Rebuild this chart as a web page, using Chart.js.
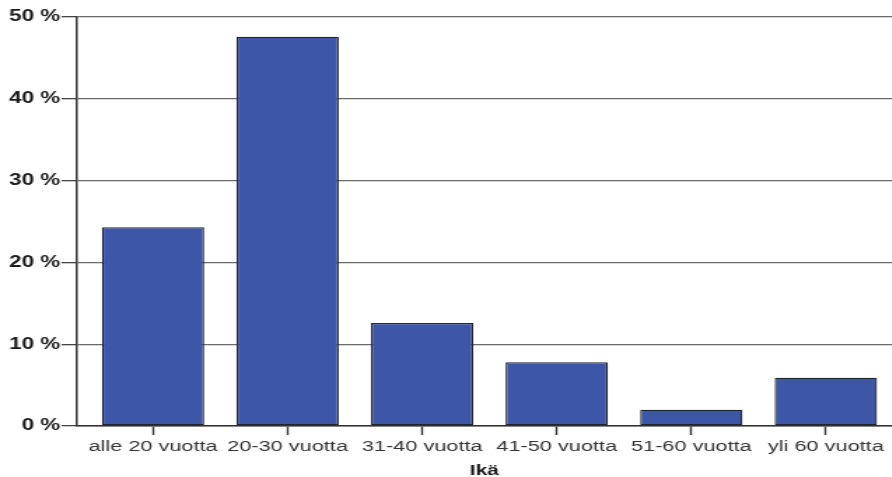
<!DOCTYPE html>
<html>
<head>
<meta charset="utf-8">
<script src="https://cdn.jsdelivr.net/npm/chart.js@4/dist/chart.umd.min.js"></script>
<style>
  html, body { margin: 0; padding: 0; background: #fff; overflow: hidden; }
  #wrap { width: 892px; height: 477px; overflow: hidden; }
  /* the chart is drawn narrow and widened horizontally */
  #chart { display: block; transform: scaleX(1.4); transform-origin: 0 0; }
</style>
</head>
<body>
<div id="wrap"><canvas id="chart" width="637" height="477"></canvas></div>
<script>
// Age groups and their share of respondents (%)
const categories = ['alle 20 vuotta', '20-30 vuotta', '31-40 vuotta', '41-50 vuotta', '51-60 vuotta', 'yli 60 vuotta'];
const shares = [24.3, 47.6, 12.6, 7.8, 2.0, 5.9];
const yTicks = [0, 10, 20, 30, 40, 50];
const xTitle = 'Ikä';

const FONT = "'Liberation Sans', Arial, Helvetica, sans-serif";

const points = categories.map((c, i) => ({ x: i, y: shares[i] }));

new Chart(document.getElementById('chart'), {
  type: 'bar',
  data: {
    datasets: [{
      data: points,
      backgroundColor: '#3d56a8',
      borderColor: '#1f2430',
      borderWidth: 1.3,
      borderSkipped: false,
      categoryPercentage: 1,
      barPercentage: 0.76
    }]
  },
  options: {
    responsive: false,
    animation: false,
    events: [],
    layout: { padding: { top: 17, right: 0, bottom: 0, left: 0 } },
    plugins: { legend: { display: false }, tooltip: { enabled: false } },
    scales: {
      x: {
        type: 'linear',
        offset: false,
        min: -0.565,
        max: 5.49,
        afterFit: s => { s.height = 51; },
        afterBuildTicks: s => { s.ticks = categories.map((c, i) => ({ value: i })); },
        ticks: {
          autoSkip: false,
          maxRotation: 0,
          padding: 2,
          color: '#333',
          font: { family: FONT, size: 15.5 },
          callback: v => categories[v] ?? ''
        },
        grid: {
          offset: false,
          drawOnChartArea: false,
          drawTicks: true,
          tickLength: 9,
          tickColor: '#333',
          tickWidth: 1.4
        },
        border: { display: true, color: '#333', width: 1.6 },
        title: {
          display: true,
          text: xTitle,
          color: '#1a1a1a',
          font: { family: FONT, size: 15, weight: 'bold' },
          padding: { top: 0, bottom: -3 }
        }
      },
      y: {
        min: 0,
        max: 50,
        afterFit: s => { s.width = 55; },
        afterBuildTicks: s => { s.ticks = yTicks.map(v => ({ value: v })); },
        ticks: {
          padding: 1,
          color: '#1a1a1a',
          font: { family: FONT, size: 16, weight: 'bold' },
          callback: v => v + ' %'
        },
        grid: {
          color: '#6a6a6a',
          lineWidth: 1.3,
          tickLength: 11,
          tickColor: '#444',
          drawTicks: true
        },
        border: { display: true, color: '#333', width: 1.5 }
      }
    }
  }
});
</script>
</body>
</html>
